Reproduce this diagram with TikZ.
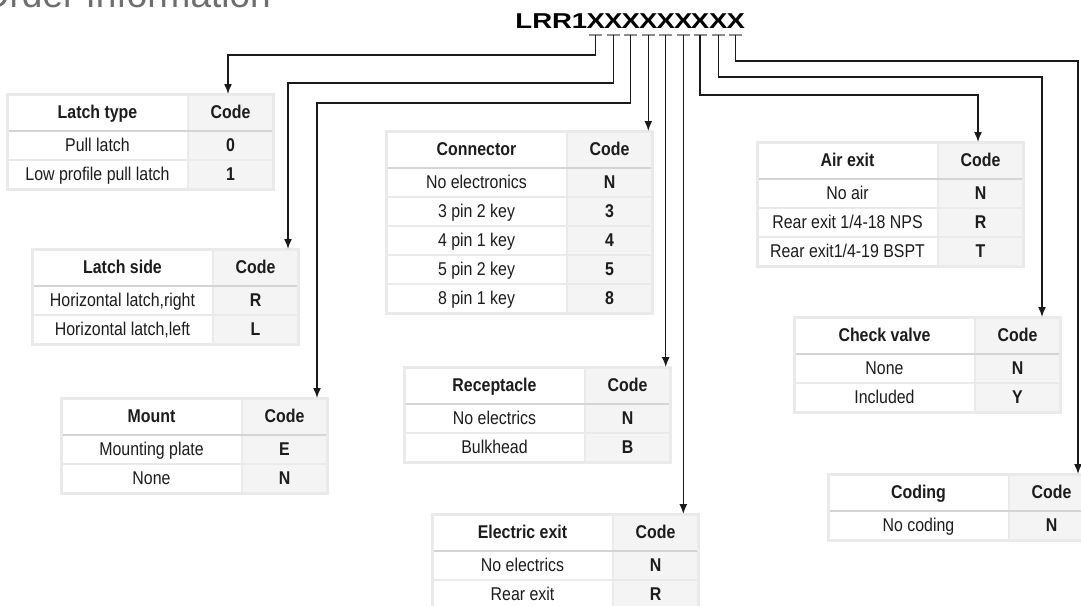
\documentclass[tikz,border=0pt]{standalone}
\usepackage{fontspec}
\setmainfont{Liberation Sans}[FakeStretch=0.86]
\newfontfamily\codefont{Liberation Sans}[FakeStretch=1.28]
\newfontfamily\titlefont{Liberation Sans}
\usetikzlibrary{arrows.meta}
\usetikzlibrary{positioning}
\definecolor{cellline}{HTML}{EAEAEA}
\definecolor{codefill}{HTML}{F4F4F4}
\definecolor{headline}{HTML}{D4D4D4}
\definecolor{tickgray}{HTML}{8C8C8C}
\definecolor{titlegray}{HTML}{6E6E6E}
\definecolor{wirecol}{HTML}{1A1A1A}
\definecolor{celltext}{HTML}{1C1C1C}

\begin{document}
\begin{tikzpicture}[x=1pt,y=-1pt,>={Latex[length=10pt,width=8pt]},
  cell/.style={inner sep=0pt,outer sep=0pt,minimum height=29pt,text height=16pt,text depth=3.5pt,draw=cellline,line width=1.5pt,text=celltext},
  lab/.style={cell,minimum width=181pt,fill=white,font=\fontsize{18.5}{21}\selectfont},
  val/.style={cell,minimum width=85pt,fill=codefill,font=\fontsize{18.5}{21}\selectfont\bfseries},
  headlab/.style={lab,minimum height=37pt,font=\fontsize{18.5}{21}\selectfont\bfseries},
  headval/.style={val,minimum height=37pt},
  frame/.style={draw=cellline,line width=3pt},
  headrule/.style={draw=headline,line width=2pt},
  codechar/.style={inner sep=0pt,text=black,font=\codefont\bfseries\fontsize{21.5}{24}\selectfont},
  tick/.style={draw=tickgray,line width=2pt},
  wire/.style={->,draw=wirecol,line width=1.5pt}]
\useasboundingbox (0,0) rectangle (1081,605);

% title and order code
\node[inner sep=0pt,anchor=base east,text=titlegray,font=\titlefont\fontsize{37}{40}\selectfont] (title) at (271,8) {Order Information};
\node[codechar,anchor=base east] (lrr) at (587.5,28) {LRR1};
\node[codechar,anchor=base] (x1) at (595.7,28) {X};
\node[codechar,anchor=base] (x2) at (613.3,28) {X};
\node[codechar,anchor=base] (x3) at (630.7,28) {X};
\node[codechar,anchor=base] (x4) at (648.3,28) {X};
\node[codechar,anchor=base] (x5) at (665.7,28) {X};
\node[codechar,anchor=base] (x6) at (683.3,28) {X};
\node[codechar,anchor=base] (x7) at (700,28) {X};
\node[codechar,anchor=base] (x8) at (718.3,28) {X};
\node[codechar,anchor=base] (x9) at (735.7,28) {X};
\coordinate[below=7pt of x1.south] (t1);
\coordinate[below=7pt of x2.south] (t2);
\coordinate[below=7pt of x3.south] (t3);
\coordinate[below=7pt of x4.south] (t4);
\coordinate[below=7pt of x5.south] (t5);
\coordinate[below=7pt of x6.south] (t6);
\coordinate[below=7pt of x7.south] (t7);
\coordinate[below=7pt of x8.south] (t8);
\coordinate[below=7pt of x9.south] (t9);
\draw[tick] ([xshift=-6.5pt]t1) -- ([xshift=6.5pt]t1) ([xshift=-6.5pt]t2) -- ([xshift=6.5pt]t2)
  ([xshift=-6.5pt]t3) -- ([xshift=6.5pt]t3) ([xshift=-6.5pt]t4) -- ([xshift=6.5pt]t4)
  ([xshift=-6.5pt]t5) -- ([xshift=6.5pt]t5) ([xshift=-6.5pt]t6) -- ([xshift=6.5pt]t6)
  ([xshift=-6.5pt]t7) -- ([xshift=6.5pt]t7) ([xshift=-6.5pt]t8) -- ([xshift=6.5pt]t8)
  ([xshift=-6.5pt]t9) -- ([xshift=6.5pt]t9);

% latch type
\node[headlab,anchor=north west] (typeH) at (7,94) {Latch type};
\node[headval,right=0pt of typeH] (typeHc) {Code};
\node[lab,below=0pt of typeH] (type1) {Pull latch};
\node[val,below=0pt of typeHc] (type1c) {0};
\node[lab,below=0pt of type1] (type2) {Low profile pull latch};
\node[val,below=0pt of type1c] (type2c) {1};
\draw[headrule] (typeH.south west) -- (typeHc.south east);
\draw[frame] (typeH.north west) rectangle (type2c.south east);

% latch side
\node[headlab,anchor=north west] (sideH) at (32,249) {Latch side};
\node[headval,right=0pt of sideH] (sideHc) {Code};
\node[lab,below=0pt of sideH] (side1) {Horizontal latch,right};
\node[val,below=0pt of sideHc] (side1c) {R};
\node[lab,below=0pt of side1] (side2) {Horizontal latch,left};
\node[val,below=0pt of side1c] (side2c) {L};
\draw[headrule] (sideH.south west) -- (sideHc.south east);
\draw[frame] (sideH.north west) rectangle (side2c.south east);

% mount
\node[headlab,anchor=north west] (mountH) at (61,398) {Mount};
\node[headval,right=0pt of mountH] (mountHc) {Code};
\node[lab,below=0pt of mountH] (mount1) {Mounting plate};
\node[val,below=0pt of mountHc] (mount1c) {E};
\node[lab,below=0pt of mount1] (mount2) {None};
\node[val,below=0pt of mount1c] (mount2c) {N};
\draw[headrule] (mountH.south west) -- (mountHc.south east);
\draw[frame] (mountH.north west) rectangle (mount2c.south east);

% connector
\node[headlab,anchor=north west] (connH) at (386,131) {Connector};
\node[headval,right=0pt of connH] (connHc) {Code};
\node[lab,below=0pt of connH] (conn1) {No electronics};
\node[val,below=0pt of connHc] (conn1c) {N};
\node[lab,below=0pt of conn1] (conn2) {3 pin 2 key};
\node[val,below=0pt of conn1c] (conn2c) {3};
\node[lab,below=0pt of conn2] (conn3) {4 pin 1 key};
\node[val,below=0pt of conn2c] (conn3c) {4};
\node[lab,below=0pt of conn3] (conn4) {5 pin 2 key};
\node[val,below=0pt of conn3c] (conn4c) {5};
\node[lab,below=0pt of conn4] (conn5) {8 pin 1 key};
\node[val,below=0pt of conn4c] (conn5c) {8};
\draw[headrule] (connH.south west) -- (connHc.south east);
\draw[frame] (connH.north west) rectangle (conn5c.south east);

% receptacle
\node[headlab,anchor=north west] (rcptH) at (404,367) {Receptacle};
\node[headval,right=0pt of rcptH] (rcptHc) {Code};
\node[lab,below=0pt of rcptH] (rcpt1) {No electrics};
\node[val,below=0pt of rcptHc] (rcpt1c) {N};
\node[lab,below=0pt of rcpt1] (rcpt2) {Bulkhead};
\node[val,below=0pt of rcpt1c] (rcpt2c) {B};
\draw[headrule] (rcptH.south west) -- (rcptHc.south east);
\draw[frame] (rcptH.north west) rectangle (rcpt2c.south east);

% electric exit
\node[headlab,anchor=north west] (elecH) at (432,514) {Electric exit};
\node[headval,right=0pt of elecH] (elecHc) {Code};
\node[lab,below=0pt of elecH] (elec1) {No electrics};
\node[val,below=0pt of elecHc] (elec1c) {N};
\node[lab,below=0pt of elec1] (elec2) {Rear exit};
\node[val,below=0pt of elec1c] (elec2c) {R};
\draw[headrule] (elecH.south west) -- (elecHc.south east);
\draw[frame] (elecH.north west) rectangle (elec2c.south east);

% air exit
\node[headlab,anchor=north west] (airH) at (757,142) {Air exit};
\node[headval,right=0pt of airH] (airHc) {Code};
\node[lab,below=0pt of airH] (air1) {No air};
\node[val,below=0pt of airHc] (air1c) {N};
\node[lab,below=0pt of air1] (air2) {Rear exit 1/4-18 NPS};
\node[val,below=0pt of air1c] (air2c) {R};
\node[lab,below=0pt of air2] (air3) {Rear exit1/4-19 BSPT};
\node[val,below=0pt of air2c] (air3c) {T};
\draw[headrule] (airH.south west) -- (airHc.south east);
\draw[frame] (airH.north west) rectangle (air3c.south east);

% check valve
\node[headlab,anchor=north west] (valveH) at (794,317) {Check valve};
\node[headval,right=0pt of valveH] (valveHc) {Code};
\node[lab,below=0pt of valveH] (valve1) {None};
\node[val,below=0pt of valveHc] (valve1c) {N};
\node[lab,below=0pt of valve1] (valve2) {Included};
\node[val,below=0pt of valve1c] (valve2c) {Y};
\draw[headrule] (valveH.south west) -- (valveHc.south east);
\draw[frame] (valveH.north west) rectangle (valve2c.south east);

% coding
\node[headlab,anchor=north west] (codingH) at (828,474) {Coding};
\node[headval,right=0pt of codingH] (codingHc) {Code};
\node[lab,below=0pt of codingH] (coding1) {No coding};
\node[val,below=0pt of codingHc] (coding1c) {N};
\draw[headrule] (codingH.south west) -- (codingHc.south east);
\draw[frame] (codingH.north west) rectangle (coding1c.south east);

% wires from the code positions
\draw[wire] (t1) -- ++(0,20) -| ([xshift=-2.5pt]typeHc.north);
\draw[wire] (t2) -- ++(0,48) -| ([xshift=-10pt]sideHc.north east);
\draw[wire] (t3) -- ++(0,68) -| ([xshift=-10pt]mountHc.north east);
\draw[wire] (t4) -- (t4 |- connHc.north);
\draw[wire] (t5) -- (t5 |- rcptHc.north);
\draw[wire] (t6) -- (t6 |- elecHc.north);
\draw[wire] (t7) -- ++(0,60) -| ([xshift=-2.5pt]airHc.north);
\draw[wire] (t8) -- ++(0,42) -| ([xshift=-18pt]valveHc.north east);
\draw[wire] (t9) -- ++(0,26) -| ([xshift=-16pt]codingHc.north east);
\end{tikzpicture}
\end{document}
